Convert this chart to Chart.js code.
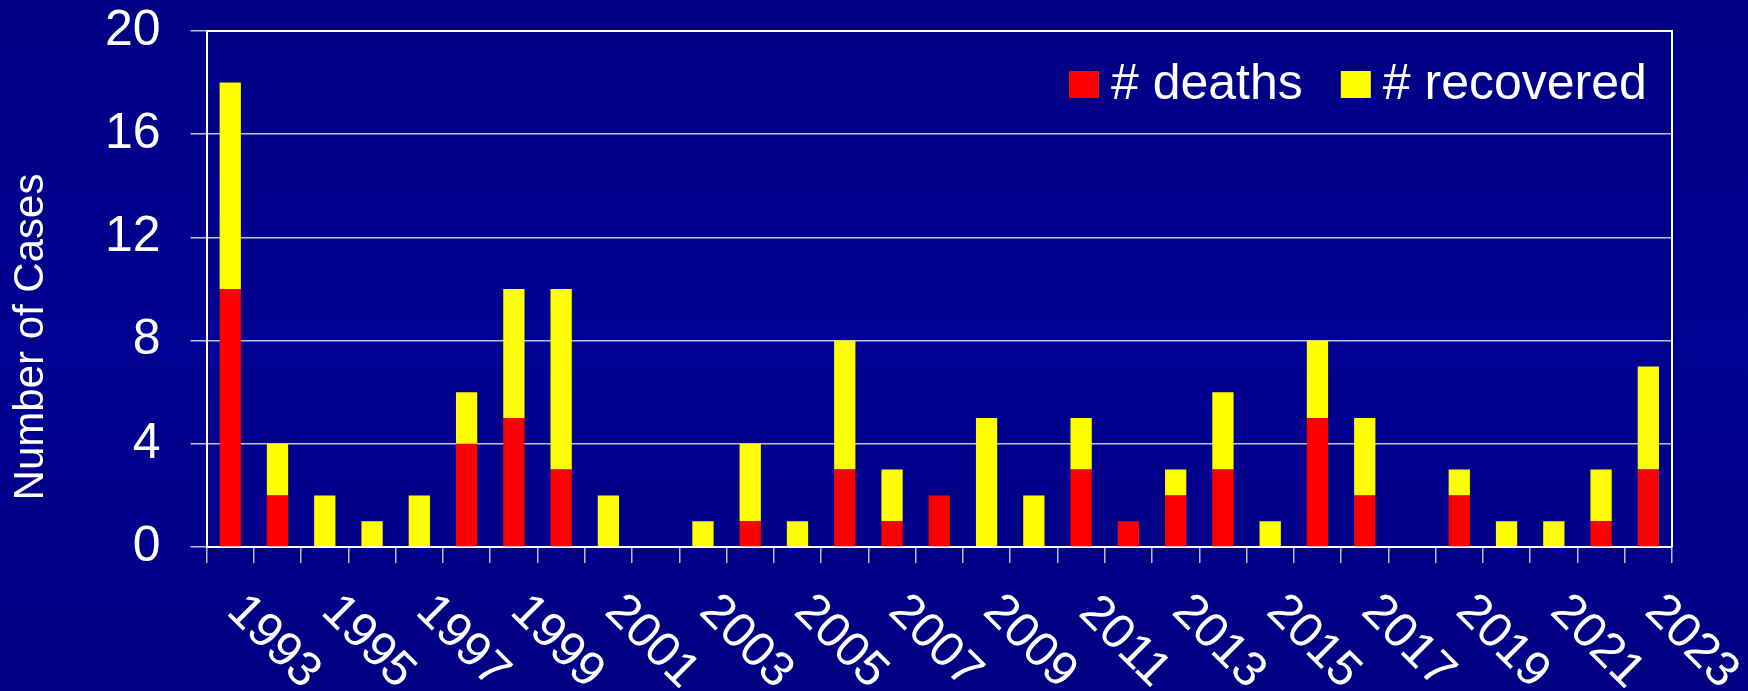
<!DOCTYPE html>
<html>
<head>
<meta charset="utf-8">
<script src="https://cdn.jsdelivr.net/npm/chart.js@4/dist/chart.umd.min.js"></script>
<style>
  html, body { margin: 0; padding: 0; }
  body {
    width: 1748px; height: 691px; overflow: hidden;
    background: linear-gradient(to bottom, #000084 0%, #000092 50%, #000082 100%);
  }
  #wrap { position: relative; width: 1748px; height: 691px; }
</style>
</head>
<body>
<div id="wrap"><canvas id="casesChart"></canvas></div>
<script>
const years = ['1993','1994','1995','1996','1997','1998','1999','2000','2001','2002','2003',
  '2004','2005','2006','2007','2008','2009','2010','2011','2012','2013','2014','2015',
  '2016','2017','2018','2019','2020','2021','2022','2023'];
const deaths    = [10,2,0,0,0,4,5,3,0,0,0,1,0,3,1,2,0,0,3,1,2,3,0,5,2,0,2,0,0,1,3];
const recovered = [ 8,2,2,1,2,2,5,7,2,0,1,3,1,5,2,0,5,2,2,0,1,3,1,3,3,0,1,1,1,2,4];
const yTicks = [0, 4, 8, 12, 16, 20];

const FONT = '"Liberation Sans", Arial, Helvetica, sans-serif';

// draws the frame, the slanted year labels, the y title and the legend
const decorations = {
  id: 'decorations',
  afterDraw(chart) {
    const { ctx, chartArea: a, scales } = chart;
    ctx.save();
    // top + right frame
    ctx.strokeStyle = '#ffffff';
    ctx.lineWidth = 2;
    ctx.beginPath();
    ctx.moveTo(a.left, a.top);
    ctx.lineTo(a.right, a.top);
    ctx.lineTo(a.right, a.bottom);
    ctx.stroke();

    // year labels, every second one, rotated clockwise
    ctx.fillStyle = '#ffffff';
    ctx.font = '49px ' + FONT;
    ctx.textAlign = 'center';
    ctx.textBaseline = 'middle';
    years.forEach((y, i) => {
      if (i % 2) return;
      const x = scales.x.getPixelForValue(i);
      ctx.save();
      ctx.translate(x + 43, a.bottom + 95);
      ctx.rotate(Math.PI / 4);
      ctx.fillText(y, 0, 0);
      ctx.restore();
    });

    // y axis title
    ctx.save();
    ctx.font = '42px ' + FONT;
    ctx.translate(31, 337);
    ctx.rotate(-Math.PI / 2);
    ctx.fillText('Number of Cases', 0, 0);
    ctx.restore();

    // legend inside the plot, top right
    ctx.font = '50px ' + FONT;
    ctx.textAlign = 'left';
    ctx.textBaseline = 'alphabetic';
    let lx = 1069;
    chart.data.datasets.forEach(ds => {
      ctx.fillStyle = ds.backgroundColor;
      ctx.fillRect(lx, 71, 30, 27);
      ctx.fillStyle = '#ffffff';
      ctx.fillText(ds.label, lx + 42, 99);
      lx += 42 + ctx.measureText(ds.label).width + 38;
    });
    ctx.restore();
  }
};

new Chart(document.getElementById('casesChart'), {
  type: 'bar',
  data: {
    labels: years,
    datasets: [
      { label: '# deaths', data: deaths, backgroundColor: '#ff0000' },
      { label: '# recovered', data: recovered, backgroundColor: '#ffff00' }
    ]
  },
  options: {
    responsive: true,
    maintainAspectRatio: false,
    animation: false,
    layout: { padding: { left: 75, top: 31, right: 76, bottom: 128 } },
    datasets: { bar: { barPercentage: 0.9, categoryPercentage: 0.5 } },
    plugins: { legend: { display: false }, tooltip: { enabled: false } },
    scales: {
      x: {
        stacked: true,
        grid: { display: true, drawOnChartArea: false, drawTicks: true, tickLength: 16,
                color: 'rgba(210,210,235,0.9)', lineWidth: 1.5 },
        border: { color: '#ffffff', width: 2 },
        ticks: { display: false }
      },
      y: {
        stacked: true,
        min: 0,
        max: 20,
        afterBuildTicks: axis => { axis.ticks = yTicks.map(v => ({ value: v })); },
        grid: { color: 'rgba(215,215,230,0.9)', lineWidth: 1.5, tickLength: 16 },
        border: { color: '#ffffff', width: 2 },
        // tiny lineHeight keeps the scale from reserving extra room above "20"
        ticks: { color: '#ffffff', padding: 30, font: { size: 50, family: FONT, lineHeight: 0.04 } }
      }
    }
  },
  plugins: [decorations]
});
</script>
</body>
</html>
